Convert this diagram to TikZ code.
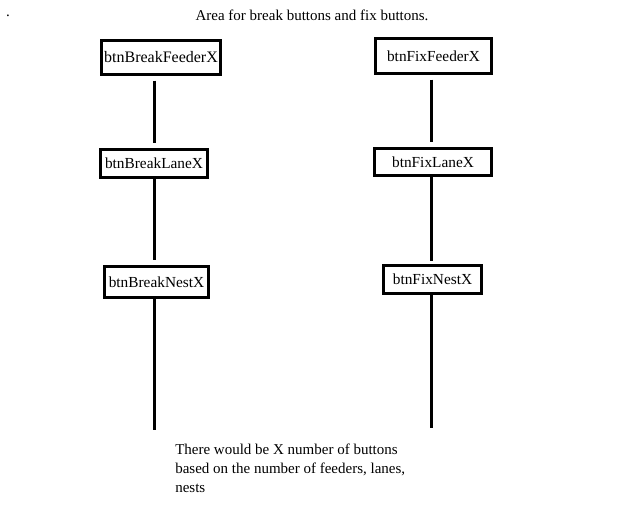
\documentclass[tikz,border=0pt]{standalone}
\usepackage{fontspec}
\setmainfont{Liberation Serif}
\usepackage{tikz}

\begin{document}
\begin{tikzpicture}[x=0.75pt,y=-0.75pt,
  btnbox/.style={draw,line width=2.25pt,inner sep=0pt,font=\fontsize{11.5}{13}\selectfont},
  link/.style={line width=2.25pt},
  gap/.style={shorten <=3.4pt,shorten >=3.4pt}]
\useasboundingbox (0,0) rectangle (626,507);
\node[inner sep=0pt,font=\fontsize{11.25}{13}\selectfont] (dot) at (8,16) {.};
\node[font=\fontsize{11.25}{13}\selectfont] (title) at (312,15) {Area for break buttons and fix buttons.};
\node[btnbox,minimum width=89.25pt,minimum height=25.5pt,font=\fontsize{12}{14}\selectfont] (bfeed) at (161,57.5) {btnBreakFeederX};
\node[btnbox,minimum width=80.25pt,minimum height=21pt] (blane) at (154,163.5) {btnBreakLaneX};
\node[btnbox,minimum width=78pt,minimum height=23.25pt] (bnest) at (156.5,282) {btnBreakNestX};
\node[btnbox,minimum width=87pt,minimum height=26.25pt] (ffeed) at (433.5,56) {btnFixFeederX};
\node[btnbox,minimum width=87.75pt,minimum height=20.25pt] (flane) at (433,162) {btnFixLaneX};
\node[btnbox,minimum width=73.5pt,minimum height=21pt] (fnest) at (432.5,279.5) {btnFixNestX};
\coordinate (lx) at (154.5,0);
\coordinate (rx) at (431,0);
\coordinate (bend) at (154.5,430);
\coordinate (fend) at (431,428);
\draw[link,gap] (bfeed.south -| lx) -- (blane.north -| lx);
\draw[link,shorten >=3.4pt] (blane.south -| lx) -- (bnest.north -| lx);
\draw[link] (bnest.south -| lx) -- (bend);
\draw[link,gap] (ffeed.south -| rx) -- (flane.north -| rx);
\draw[link,shorten >=2.6pt] (flane.south -| rx) -- (fnest.north -| rx);
\draw[link] (fnest.south -| rx) -- (fend);
\node[anchor=north west,inner sep=0pt,align=left,font=\fontsize{11.25}{14.25}\selectfont] (note) at (175,443.5)
  {There would be X number of buttons\\based on the number of feeders, lanes,\\nests};
\end{tikzpicture}
\end{document}
